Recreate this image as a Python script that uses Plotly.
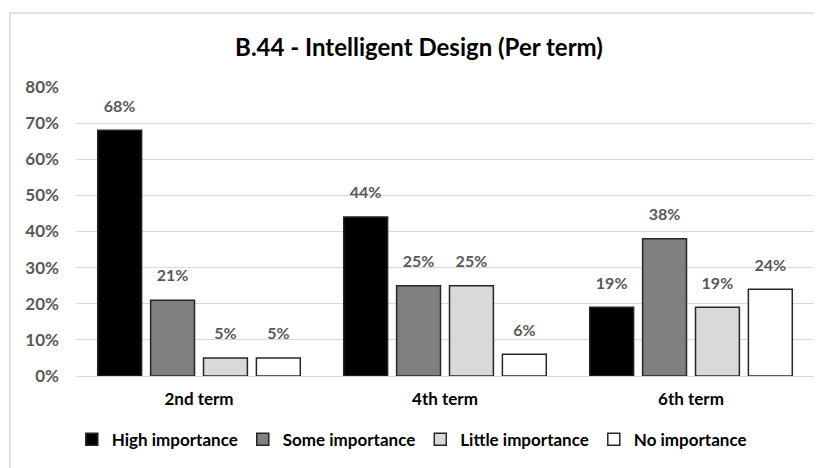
import plotly.graph_objects as go

terms = ["2nd term", "4th term", "6th term"]
series_names = ["High importance", "Some importance", "Little importance", "No importance"]
high = [0.68, 0.44, 0.19]
some = [0.21, 0.25, 0.38]
little = [0.05, 0.25, 0.19]
none_imp = [0.05, 0.06, 0.24]
y_ticks = [0, 0.1, 0.2, 0.3, 0.4, 0.5, 0.6, 0.7, 0.8]

fills = ["#000000", "#808080", "#d9d9d9", "#ffffff"]
txt = "#595959"
font_family = "Lato, 'Open Sans', sans-serif"

fig = go.Figure()
for i, (name, vals, col) in enumerate(zip(series_names, [high, some, little, none_imp], fills)):
    fig.add_trace(go.Bar(
        x=terms, y=vals, name=name, offsetgroup=str(i),
        marker=dict(color=col, line=dict(color="#262626", width=1.5)),
    ))
    # value labels, lifted above the bars by an invisible marker
    fig.add_trace(go.Scatter(
        x=terms, y=vals, offsetgroup=str(i), mode="markers+text",
        marker=dict(size=22, color="rgba(0,0,0,0)"),
        text=[f"{round(v * 100)}%" for v in vals], textposition="top center",
        textfont=dict(color=txt, size=16, family=font_family, weight="bold"),
        showlegend=False, hoverinfo="skip", cliponaxis=False,
    ))

fig.update_layout(
    width=822, height=468,
    margin=dict(l=68, r=16, t=79, b=100),
    paper_bgcolor="white", plot_bgcolor="white",
    font=dict(family=font_family, color=txt),
    title=dict(text="<b>B.44 - Intelligent Design (Per term)</b>",
               x=0.5, xanchor="center", y=0.915, yanchor="middle",
               font=dict(size=24, color="#000000", family=font_family)),
    barmode="group", scattermode="group", bargap=0.14, bargroupgap=0.17,
    legend=dict(orientation="h", x=0.455, xanchor="center", y=-0.22, yanchor="middle",
                font=dict(size=17, color="#000000", family=font_family, weight="bold"),
                itemwidth=30, traceorder="normal"),
    showlegend=True,
)
fig.update_yaxes(range=[0, 0.8], tickvals=y_ticks, tickformat=".0%",
                 tickfont=dict(size=17, color=txt, family=font_family, weight="bold"),
                 showgrid=True, gridcolor="#d9d9d9", gridwidth=1,
                 zeroline=False, ticks="", ticklabelstandoff=16)
fig.update_xaxes(showline=True, linecolor="#d9d9d9", linewidth=1,
                 tickfont=dict(size=17, color="#000000", family=font_family, weight="bold"),
                 ticklabelstandoff=8)

# chart border
fig.add_shape(type="rect", xref="paper", yref="paper",
              x0=-0.0894, x1=1.03, y0=-0.4, y1=1.256,
              line=dict(color="#d9d9d9", width=1.5), fillcolor="rgba(0,0,0,0)",
              layer="below")

fig.write_html("out.html")
